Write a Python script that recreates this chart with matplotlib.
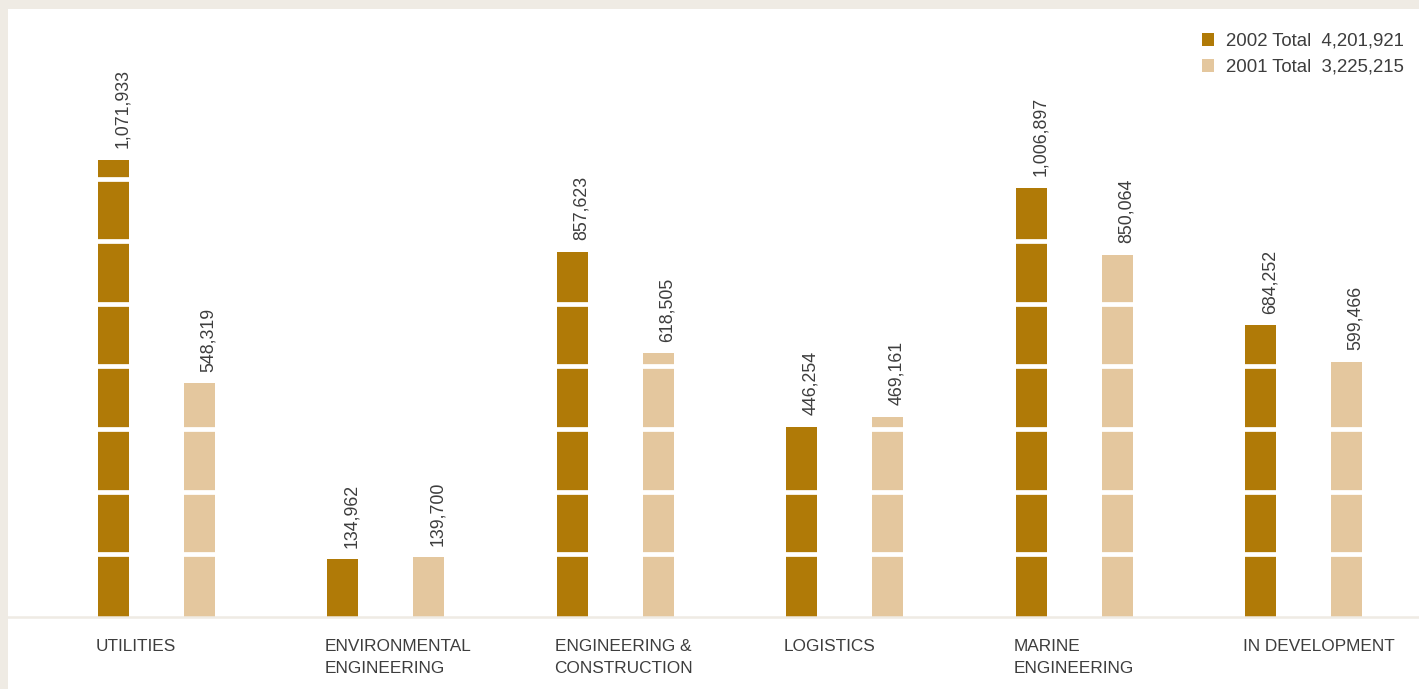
import numpy as np
import matplotlib
matplotlib.use("Agg")
import matplotlib.pyplot as plt
from matplotlib.patches import Rectangle

# =============================================================================
# Data
# =============================================================================
categories = ["UTILITIES", "ENVIRONMENTAL\nENGINEERING", "ENGINEERING &\nCONSTRUCTION",
              "LOGISTICS", "MARINE\nENGINEERING", "IN DEVELOPMENT"]
values_2002 = [1071933, 134962, 857623, 446254, 1006897, 684252]
values_2001 = [548319, 139700, 618505, 469161, 850064, 599466]
series_names = ["2002 Total", "2001 Total"]

# =============================================================================
# Style
# =============================================================================
DARK = "#b07a07"
LIGHT = "#e4c79e"
OUTER_BG = "#efebe4"
TEXT = "#3d3d3d"
GRID_STEP = 147000
Y_TOP = 1427000
plt.rcParams["font.family"] = ["Liberation Sans", "DejaVu Sans"]

W, H, DPI = 1419, 689, 100
fig = plt.figure(figsize=(W / DPI, H / DPI), dpi=DPI, facecolor=OUTER_BG)

# white panel
fig.patches.append(Rectangle((8 / W, 0), 1 - 8 / W, 680 / H, transform=fig.transFigure,
                             facecolor="white", edgecolor="none", zorder=-10))

ax = fig.add_axes([8 / W, 72 / H, 1 - 8 / W, (680 - 72) / H])
ax.set_facecolor("none")

x = np.arange(len(categories))
off, bw = 0.1875, 0.135
b1 = ax.bar(x - off, values_2002, bw, color=DARK, zorder=2)
b2 = ax.bar(x + off, values_2001, bw, color=LIGHT, zorder=2)

ax.set_xlim(-0.647, 5.503)
ax.set_ylim(0, Y_TOP)

# white stripes cutting each bar into blocks (skipped right under the bar top)
for bars, vals in ((b1, values_2002), (b2, values_2001)):
    for rect, v in zip(bars, vals):
        for g in np.arange(GRID_STEP, v - 12000, GRID_STEP):
            ax.hlines(g, rect.get_x() - 0.01, rect.get_x() + rect.get_width() + 0.01,
                      color="white", lw=3.4, zorder=3)

# value labels
for bars, vals in ((b1, values_2002), (b2, values_2001)):
    for rect, v in zip(bars, vals):
        ax.annotate(f"{v:,}", (rect.get_x() + rect.get_width(), v),
                    xytext=(1.5, 8.5), textcoords="offset points",
                    rotation=90, ha="right", va="bottom",
                    fontsize=12.8, color=TEXT)

# category labels, left aligned at the first bar
ax.set_xticks(x - off - bw / 2 - 0.01)
ax.set_xticklabels(categories, ha="left", fontsize=12.4, color=TEXT, linespacing=1.55)
ax.tick_params(axis="x", length=0, pad=16)
ax.set_yticks([])

for s in ("top", "right", "left"):
    ax.spines[s].set_visible(False)
ax.spines["bottom"].set_color(OUTER_BG)
ax.spines["bottom"].set_linewidth(1.8)

labels = [f"{series_names[0]}  {sum(values_2002):,}",
          f"{series_names[1]}  {sum(values_2001):,}"]
leg = ax.legend([b1, b2], labels, loc="upper right",
                bbox_to_anchor=(1404 / W, (689 - 33) / H), bbox_transform=fig.transFigure,
                frameon=False, fontsize=13.4, handlelength=0.64, handleheight=0.64,
                handletextpad=0.64, labelspacing=0.48, borderpad=0, borderaxespad=0)
for t in leg.get_texts():
    t.set_color(TEXT)

fig.savefig("out.png", dpi=DPI, facecolor=OUTER_BG)
